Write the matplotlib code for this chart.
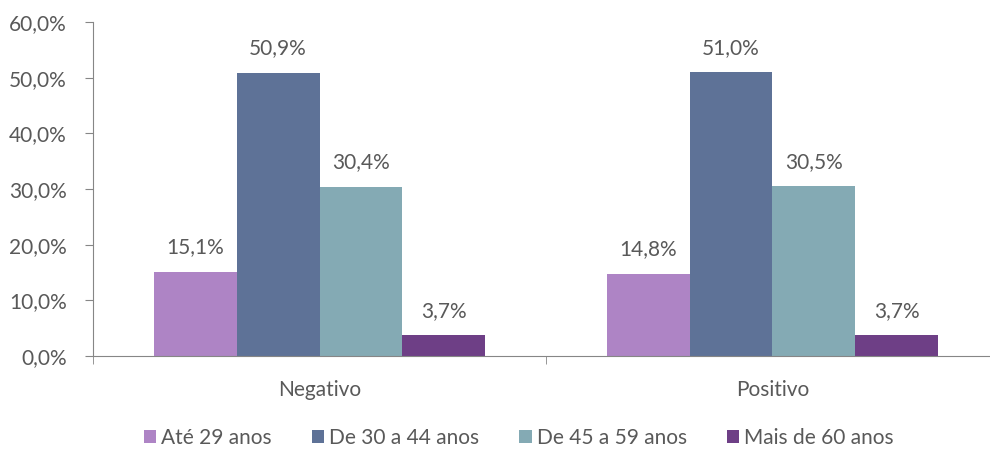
import numpy as np
import matplotlib.pyplot as plt

plt.rcParams['font.family'] = ['Lato', 'DejaVu Sans']
plt.rcParams['font.size'] = 15

# data
categorias = ['Negativo', 'Positivo']
faixas = ['Até 29 anos', 'De 30 a 44 anos', 'De 45 a 59 anos', 'Mais de 60 anos']
valores = [
    [15.1, 14.8],
    [50.9, 51.0],
    [30.4, 30.5],
    [3.7, 3.7],
]
cores = ['#AE84C5', '#5E7297', '#84AAB4', '#6E3F86']

txt = '#595959'
eixo = '#868686'

fig = plt.figure(figsize=(9.9, 4.49), dpi=100)
ax = fig.add_axes([0.094, 0.207, 0.915, 0.744])

x = np.arange(len(categorias))
w = 0.183
for i, (nome, vals) in enumerate(zip(faixas, valores)):
    pos = x + (i - 1.5) * w
    ax.bar(pos, vals, w, color=cores[i], label=nome)
    for p, v in zip(pos, vals):
        ax.text(p, v + 2.6, ('%.1f%%' % v).replace('.', ','),
                ha='center', va='bottom', color=txt, fontsize=15)

ax.set_xlim(-0.5, 1.5)
ax.set_ylim(0, 60)
ax.set_yticks(np.arange(0, 61, 10))
ax.set_yticklabels([('%.1f%%' % t).replace('.', ',') for t in np.arange(0, 61, 10)])
ax.set_xticks(x)
ax.set_xticklabels(categorias)
ax.set_xticks([-0.5, 0.5, 1.5], minor=True)
ax.tick_params(axis='x', which='major', length=0, pad=17, colors=txt)
ax.tick_params(axis='x', which='minor', length=6, color=eixo)
ax.tick_params(axis='y', length=6, color=eixo, colors=txt, pad=13)

for s in ['top', 'right']:
    ax.spines[s].set_visible(False)
for s in ['left', 'bottom']:
    ax.spines[s].set_color(eixo)

leg = ax.legend(loc='center', bbox_to_anchor=(0.47, -0.245), ncol=4,
                frameon=False, handlelength=0.6, handleheight=0.6,
                handletextpad=0.25, columnspacing=1.9, fontsize=15)
for t in leg.get_texts():
    t.set_color(txt)

fig.savefig('out.png')
